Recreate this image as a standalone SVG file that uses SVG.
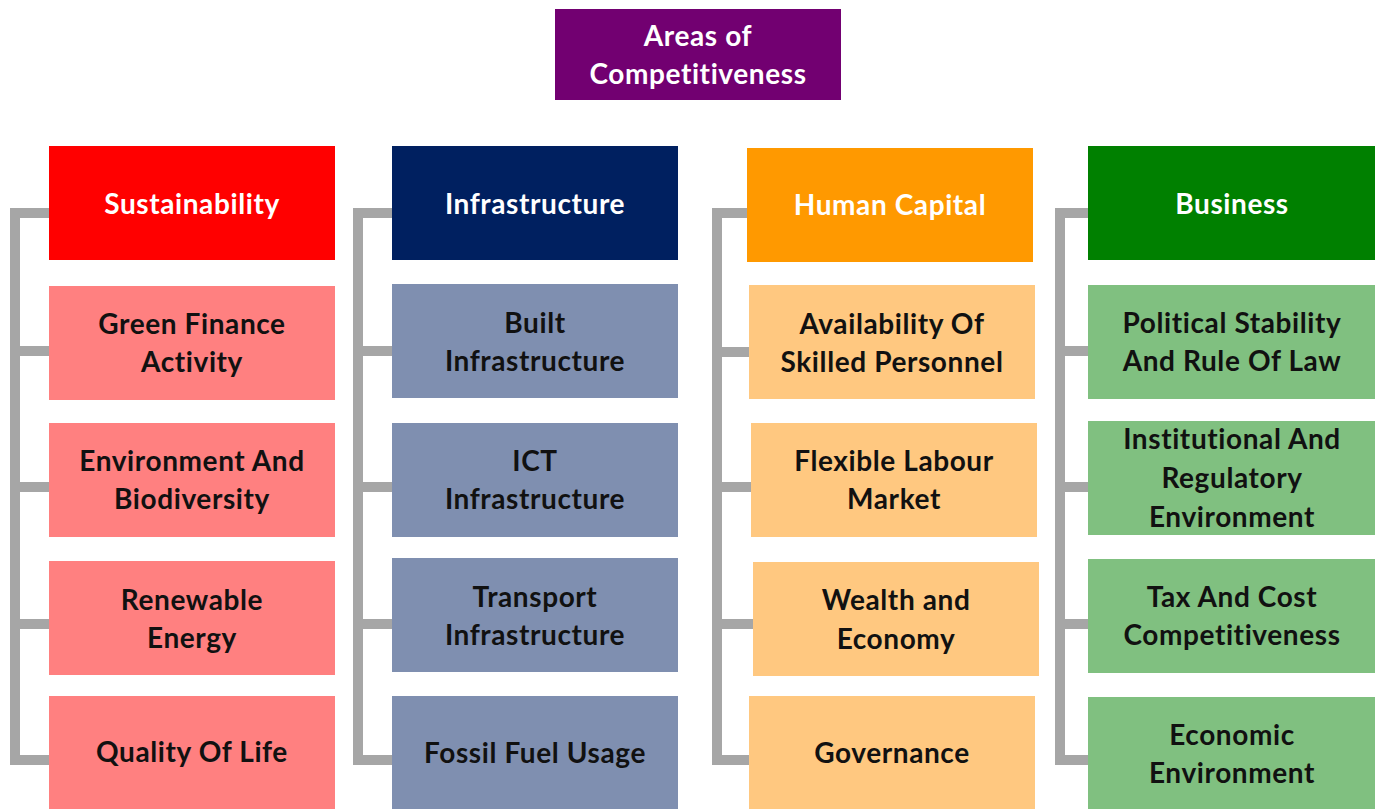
<svg xmlns="http://www.w3.org/2000/svg" width="1382" height="809" viewBox="0 0 1382 809">
<style>
text{font-family:Lato,"Open Sans","Liberation Sans",sans-serif;font-weight:bold;font-size:28px;letter-spacing:0.6px;text-anchor:middle}
.w{fill:#ffffff}
.d{fill:#111111}
.c{fill:none;stroke:#a6a6a6;stroke-width:10;stroke-linejoin:miter}
</style>
<rect width="1382" height="809" fill="#ffffff"/>
<g id="connectors">
<path class="c" d="M49 213H15V760H49M15 351H49M15 487H49M15 624H49"/>
<path class="c" d="M392 213H358V760H392M358 351H392M358 487H392M358 624H392"/>
<path class="c" d="M747 213H717V760H749M717 352H749M717 487H751M717 624H753"/>
<path class="c" d="M1088 213H1060V760H1088M1060 351H1088M1060 487H1088M1060 624H1088"/>
</g>
<g id="root"><rect x="555" y="9" width="286" height="91" fill="#720071"/><text class="w" x="698" y="46">Areas of</text><text class="w" x="698" y="84">Competitiveness</text></g>

<g id="sustainability"><rect x="49" y="146" width="286" height="114" fill="#ff0000"/><text class="w" x="192" y="214">Sustainability</text></g>
<g id="green-finance"><rect x="49" y="286" width="286" height="114" fill="#ff8080"/><text class="d" x="192" y="334">Green Finance</text><text class="d" x="192" y="372">Activity</text></g>
<g id="environment"><rect x="49" y="423" width="286" height="114" fill="#ff8080"/><text class="d" x="192" y="471">Environment And</text><text class="d" x="192" y="509">Biodiversity</text></g>
<g id="renewable"><rect x="49" y="561" width="286" height="114" fill="#ff8080"/><text class="d" x="192" y="610">Renewable</text><text class="d" x="192" y="648">Energy</text></g>
<g id="quality"><rect x="49" y="696" width="286" height="113" fill="#ff8080"/><text class="d" x="192" y="762">Quality Of Life</text></g>

<g id="infrastructure"><rect x="392" y="146" width="286" height="114" fill="#002060"/><text class="w" x="535" y="214">Infrastructure</text></g>
<g id="built"><rect x="392" y="284" width="286" height="114" fill="#7f8fb0"/><text class="d" x="535" y="333">Built</text><text class="d" x="535" y="371">Infrastructure</text></g>
<g id="ict"><rect x="392" y="423" width="286" height="114" fill="#7f8fb0"/><text class="d" x="535" y="471">ICT</text><text class="d" x="535" y="509">Infrastructure</text></g>
<g id="transport"><rect x="392" y="558" width="286" height="114" fill="#7f8fb0"/><text class="d" x="535" y="607">Transport</text><text class="d" x="535" y="645">Infrastructure</text></g>
<g id="fossil"><rect x="392" y="696" width="286" height="113" fill="#7f8fb0"/><text class="d" x="535" y="763">Fossil Fuel Usage</text></g>

<g id="human-capital"><rect x="747" y="148" width="286" height="114" fill="#ff9900"/><text class="w" x="890" y="215">Human Capital</text></g>
<g id="availability"><rect x="749" y="285" width="286" height="114" fill="#ffc880"/><text class="d" x="892" y="334">Availability Of</text><text class="d" x="892" y="372">Skilled Personnel</text></g>
<g id="flexible"><rect x="751" y="423" width="286" height="114" fill="#ffc880"/><text class="d" x="894" y="471">Flexible Labour</text><text class="d" x="894" y="509">Market</text></g>
<g id="wealth"><rect x="753" y="562" width="286" height="114" fill="#ffc880"/><text class="d" x="896" y="610">Wealth and</text><text class="d" x="896" y="649">Economy</text></g>
<g id="governance"><rect x="749" y="696" width="286" height="113" fill="#ffc880"/><text class="d" x="892" y="763">Governance</text></g>

<g id="business"><rect x="1088" y="146" width="287" height="114" fill="#008000"/><text class="w" x="1232" y="214">Business</text></g>
<g id="political"><rect x="1088" y="285" width="287" height="114" fill="#80c080"/><text class="d" x="1232" y="333">Political Stability</text><text class="d" x="1232" y="371">And Rule Of Law</text></g>
<g id="institutional"><rect x="1088" y="421" width="287" height="114" fill="#80c080"/><text class="d" x="1232" y="449">Institutional And</text><text class="d" x="1232" y="488">Regulatory</text><text class="d" x="1232" y="527">Environment</text></g>
<g id="tax"><rect x="1088" y="559" width="287" height="114" fill="#80c080"/><text class="d" x="1232" y="607">Tax And Cost</text><text class="d" x="1232" y="645">Competitiveness</text></g>
<g id="economic"><rect x="1088" y="697" width="287" height="112" fill="#80c080"/><text class="d" x="1232" y="745">Economic</text><text class="d" x="1232" y="783">Environment</text></g>
</svg>
